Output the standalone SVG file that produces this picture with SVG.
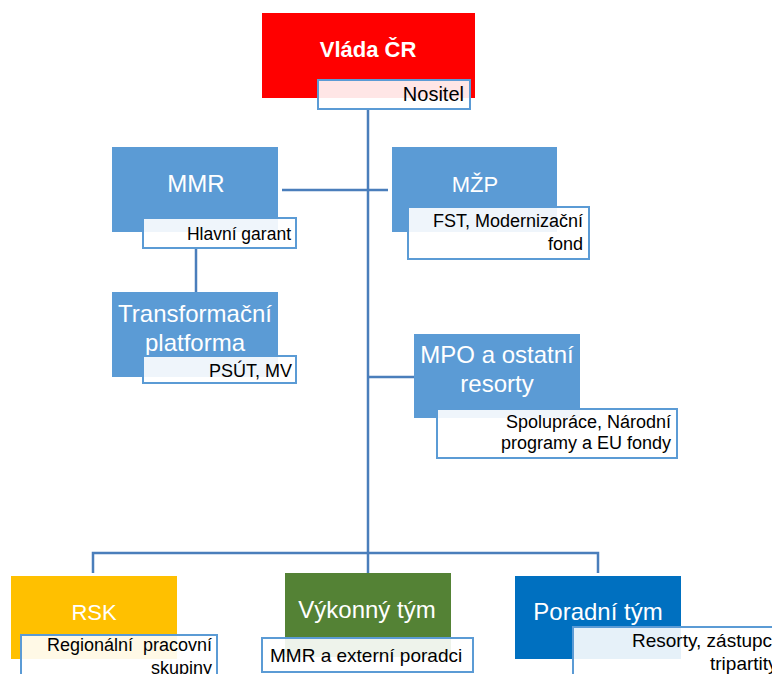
<svg xmlns="http://www.w3.org/2000/svg" width="772" height="674" viewBox="0 0 772 674">
<style>
.lbl{fill:#ffffff;fill-opacity:0.9;stroke:#5B9BD5;stroke-width:2}
.main{font-family:"Liberation Sans",Arial,sans-serif;font-size:24px;fill:#ffffff;text-anchor:middle}
.sub{font-family:"Liberation Sans",Arial,sans-serif;font-size:18px;fill:#000000;text-anchor:end}
.conn{stroke:#4A7EBB;stroke-width:2.5;fill:none}
</style>
<rect width="772" height="674" fill="#ffffff"/>
<g id="connectors">
<line class="conn" x1="368" y1="109" x2="368" y2="553"/>
<line class="conn" x1="282" y1="190" x2="388" y2="190"/>
<line class="conn" x1="196" y1="248" x2="196" y2="292"/>
<line class="conn" x1="368" y1="377" x2="414" y2="377"/>
<polyline class="conn" points="93,573 93,553 598,553 598,573"/>
<line class="conn" x1="368" y1="553" x2="368" y2="573"/>
</g>
<g id="vlada">
<rect x="262" y="13" width="213" height="85" fill="#FF0000"/>
<text x="368" y="57" class="main" style="font-weight:bold;font-size:22px">Vláda ČR</text>
<rect x="318" y="80" width="152" height="29" class="lbl"/>
<text x="464" y="101" class="sub" style="font-size:20px">Nositel</text>
</g>
<g id="mmr">
<rect x="112" y="147" width="166" height="85" fill="#5B9BD5"/>
<text x="196" y="192" class="main">MMR</text>
<rect x="143" y="218" width="153" height="30" class="lbl"/>
<text x="291" y="240" class="sub" style="font-size:17.5px">Hlavní garant</text>
</g>
<g id="mzp">
<rect x="392" y="147" width="165" height="85" fill="#5B9BD5"/>
<text x="475" y="192" class="main" style="font-size:22px">MŽP</text>
<rect x="408" y="207" width="181" height="52" class="lbl"/>
<text x="583" y="227" class="sub">FST, Modernizační</text>
<text x="583" y="250" class="sub">fond</text>
</g>
<g id="transformacni">
<rect x="112" y="292" width="166" height="85" fill="#5B9BD5"/>
<text x="195" y="322" class="main">Transformační</text>
<text x="195" y="351" class="main">platforma</text>
<rect x="143" y="356" width="153" height="27" class="lbl"/>
<text x="292" y="377" class="sub">PSÚT, MV</text>
</g>
<g id="mpo">
<rect x="414" y="334" width="166" height="84" fill="#5B9BD5"/>
<text x="497" y="363" class="main">MPO a ostatní</text>
<text x="497" y="392" class="main">resorty</text>
<rect x="437" y="409" width="240" height="49" class="lbl"/>
<text x="671" y="428" class="sub">Spolupráce, Národní</text>
<text x="671" y="449" class="sub">programy a EU fondy</text>
</g>
<g id="rsk">
<rect x="11" y="576" width="166" height="83" fill="#FFC000"/>
<text x="94" y="620" class="main" style="font-size:22px">RSK</text>
<rect x="21" y="635" width="196" height="50" class="lbl"/>
<text x="212" y="651" class="sub" style="white-space:pre">Regionální  pracovní</text>
<text x="212" y="674" class="sub">skupiny</text>
</g>
<g id="vykonny">
<rect x="285" y="573" width="166" height="84" fill="#548235"/>
<text x="367" y="618" class="main">Výkonný tým</text>
<rect x="262" y="638" width="211" height="34" class="lbl"/>
<text x="270" y="662" class="sub" style="text-anchor:start;font-size:19px">MMR a externí poradci</text>
</g>
<g id="poradni">
<rect x="515" y="576" width="166" height="83" fill="#0070C0"/>
<text x="598" y="620" class="main">Poradní tým</text>
<rect x="573" y="627" width="220" height="60" class="lbl"/>
<text x="632" y="647" class="sub" style="text-anchor:start;font-size:19px">Resorty, zástupci</text>
<text x="710" y="670" class="sub" style="text-anchor:start;font-size:19px">tripartity</text>
</g>
</svg>
